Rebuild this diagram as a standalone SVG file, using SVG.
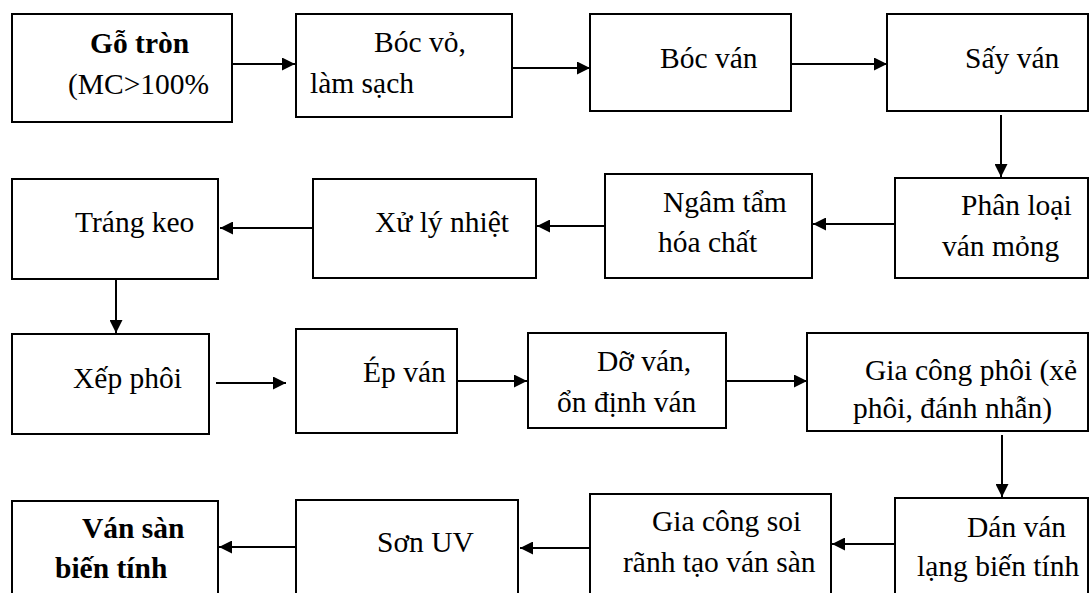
<svg xmlns="http://www.w3.org/2000/svg" width="1091" height="593" viewBox="0 0 1091 593">
<style>
.box{fill:#fff;stroke:#000;stroke-width:2}
.t{font-family:"Liberation Serif","Times New Roman",serif;font-size:29.5px;fill:#000}
.b{font-weight:bold}
.c{stroke:#000;stroke-width:2;fill:none;marker-end:url(#ah)}
</style>
<defs>
<marker id="ah" markerUnits="userSpaceOnUse" markerWidth="14" markerHeight="13" refX="13" refY="6.5" orient="auto">
<path d="M0,0 L13,6.5 L0,13 z" fill="#000"/>
</marker>
</defs>
<rect width="1091" height="593" fill="#fff"/>
<g id="connectors">
<line class="c" x1="232" y1="64" x2="295" y2="64"/>
<line class="c" x1="512" y1="68" x2="590" y2="68"/>
<line class="c" x1="791" y1="64" x2="887" y2="64"/>
<line class="c" x1="1001" y1="115" x2="1001" y2="177"/>
<line class="c" x1="895" y1="224" x2="813" y2="224"/>
<line class="c" x1="605" y1="226" x2="537" y2="226"/>
<line class="c" x1="313" y1="228" x2="220" y2="228"/>
<line class="c" x1="116" y1="279" x2="116" y2="333"/>
<line class="c" x1="216" y1="383" x2="286" y2="383"/>
<line class="c" x1="457" y1="381" x2="527" y2="381"/>
<line class="c" x1="726" y1="381" x2="807" y2="381"/>
<line class="c" x1="1002" y1="435" x2="1002" y2="497"/>
<line class="c" x1="895" y1="544" x2="832" y2="544"/>
<line class="c" x1="590" y1="548" x2="520" y2="548"/>
<line class="c" x1="296" y1="547" x2="219" y2="547"/>
</g>
<g id="n1"><rect class="box" x="12" y="14" width="220" height="108"/>
<text class="t b" x="90" y="53">Gỗ tròn</text><text class="t" x="68" y="94">(MC&gt;100%</text></g>
<g id="n2"><rect class="box" x="296" y="14" width="216" height="103"/>
<text class="t" x="374" y="52">Bóc vỏ,</text><text class="t" x="310" y="93">làm sạch</text></g>
<g id="n3"><rect class="box" x="590" y="14" width="201" height="97"/>
<text class="t" x="660" y="68">Bóc ván</text></g>
<g id="n4"><rect class="box" x="887" y="14" width="201" height="97"/>
<text class="t" x="965" y="68">Sấy ván</text></g>
<g id="n5"><rect class="box" x="895" y="178" width="193" height="100"/>
<text class="t" x="961" y="215">Phân loại</text><text class="t" x="942" y="256">ván mỏng</text></g>
<g id="n6"><rect class="box" x="605" y="174" width="207" height="104"/>
<text class="t" x="663" y="212">Ngâm tẩm</text><text class="t" x="658" y="252">hóa chất</text></g>
<g id="n7"><rect class="box" x="313" y="179" width="223" height="99"/>
<text class="t" x="375" y="232">Xử lý nhiệt</text></g>
<g id="n8"><rect class="box" x="12" y="179" width="206" height="100"/>
<text class="t" x="75" y="232">Tráng keo</text></g>
<g id="n9"><rect class="box" x="12" y="334" width="197" height="100"/>
<text class="t" x="73" y="388">Xếp phôi</text></g>
<g id="n10"><rect class="box" x="296" y="329" width="161" height="104"/>
<text class="t" x="363" y="382">Ép ván</text></g>
<g id="n11"><rect class="box" x="528" y="333" width="198" height="95"/>
<text class="t" x="597" y="371">Dỡ ván,</text><text class="t" x="557" y="412">ổn định ván</text></g>
<g id="n12"><rect class="box" x="807" y="333" width="281" height="98"/>
<text class="t" x="865" y="380">Gia công phôi (xẻ</text><text class="t" x="853" y="418">phôi, đánh nhẫn)</text></g>
<g id="n13"><rect class="box" x="895" y="498" width="193" height="130"/>
<text class="t" x="967" y="537">Dán ván</text><text class="t" x="917" y="576">lạng biến tính</text></g>
<g id="n14"><rect class="box" x="590" y="494" width="241" height="130"/>
<text class="t" x="652" y="531">Gia công soi</text><text class="t" x="623" y="572">rãnh tạo ván sàn</text></g>
<g id="n15"><rect class="box" x="296" y="500" width="222" height="130"/>
<text class="t" x="377" y="552">Sơn UV</text></g>
<g id="n16"><rect class="box" x="12" y="501" width="206" height="130"/>
<text class="t b" x="82" y="538">Ván sàn</text><text class="t b" x="55" y="578">biến tính</text></g>
</svg>
